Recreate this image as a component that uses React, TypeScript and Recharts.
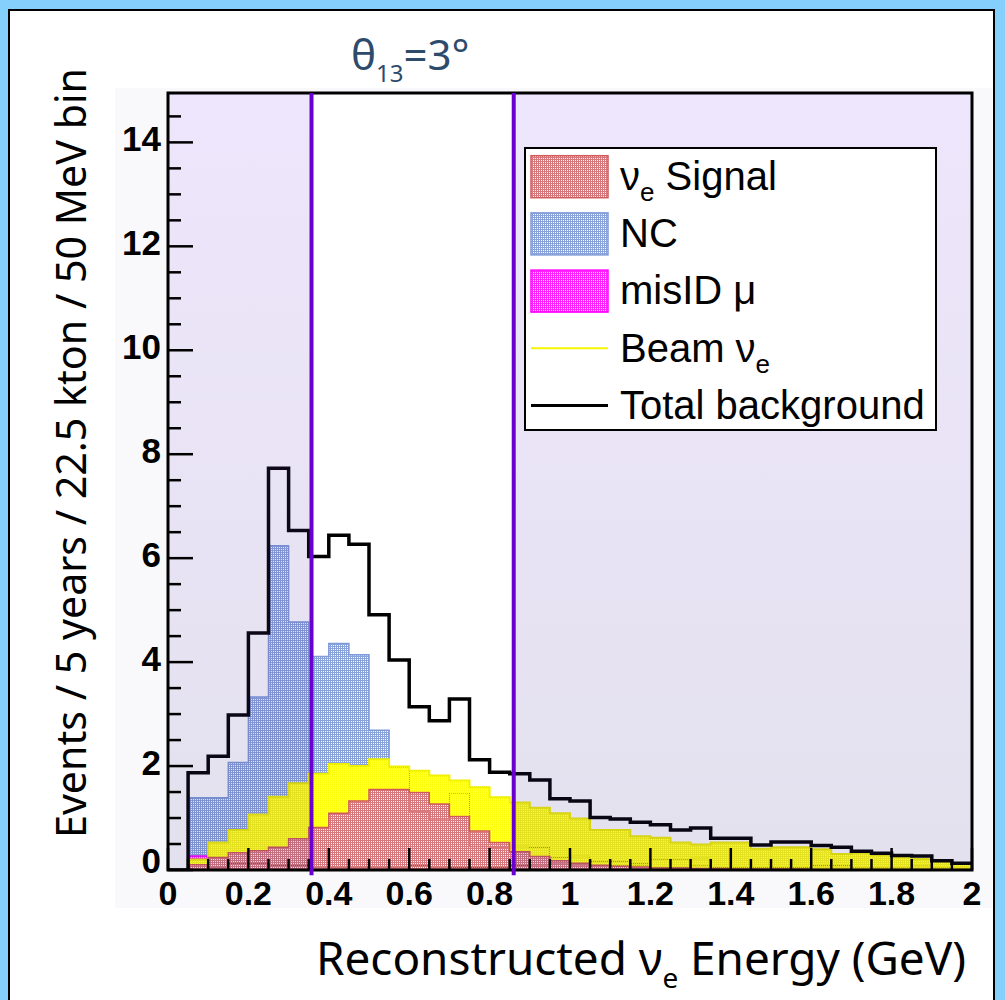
import React from 'react';
import { ComposedChart, Area, Line, XAxis, YAxis, ReferenceArea, ReferenceLine, Legend } from 'recharts';

// ---- data ----
const binEdges = [0, 0.05, 0.1, 0.15, 0.2, 0.25, 0.3, 0.35, 0.4, 0.45, 0.5, 0.55, 0.6, 0.65, 0.7, 0.75, 0.8, 0.85, 0.9, 0.95, 1.0, 1.05, 1.1, 1.15, 1.2, 1.25, 1.3, 1.35, 1.4, 1.45, 1.5, 1.55, 1.6, 1.65, 1.7, 1.75, 1.8, 1.85, 1.9, 1.95, 2.0];
const nueSignal = [0, 0.10, 0.24, 0.33, 0.37, 0.44, 0.60, 0.82, 1.09, 1.33, 1.55, 1.55, 1.49, 1.27, 1.03, 0.75, 0.53, 0.35, 0.26, 0.18, 0.13, 0.09, 0.07, 0.06, 0.04, 0.04, 0.03, 0.03, 0.02, 0.02, 0.02, 0.02, 0.01, 0.01, 0.01, 0.01, 0.01, 0.01, 0.01, 0.01];
const ncBkg = [0, 1.39, 1.39, 2.07, 3.33, 6.24, 4.77, 4.11, 4.36, 4.14, 2.69, 1.98, 1.12, 0.96, 1.48, 0.45, 0.43, 0.45, 0.44, 0.24, 0.26, 0.16, 0.16, 0.12, 0.21, 0.21, 0.22, 0.04, 0.04, 0.04, 0.04, 0.04, 0.08, 0.08, 0.03, 0.03, 0.03, 0.07, 0.03, 0.03];
const misIdMu = [0, 0.27, 0.06, 0.13, 0.13, 0.08, 0.08, 0.06, 0.06, 0.06, 0.06, 0.06, 0.08, 0.06, 0.05, 0.05, 0.05, 0.08, 0.10, 0.14, 0.10, 0.07, 0.07, 0.10, 0.04, 0.04, 0.10, 0.03, 0.03, 0.03, 0.03, 0.03, 0.03, 0.03, 0.03, 0.03, 0.03, 0.03, 0.03, 0.02];
const beamNue = [0, 0.20, 0.53, 0.77, 1.07, 1.41, 1.67, 1.85, 2.04, 2.00, 2.13, 1.99, 1.91, 1.82, 1.72, 1.59, 1.40, 1.30, 1.20, 1.09, 0.99, 0.77, 0.77, 0.65, 0.62, 0.53, 0.49, 0.53, 0.53, 0.41, 0.44, 0.44, 0.40, 0.31, 0.33, 0.29, 0.26, 0.21, 0.17, 0.12];
const totalBkg = [0, 1.87, 2.19, 2.98, 4.56, 7.73, 6.53, 6.03, 6.44, 6.27, 4.91, 4.04, 3.14, 2.87, 3.29, 2.12, 1.88, 1.85, 1.73, 1.37, 1.33, 1.01, 0.98, 0.92, 0.87, 0.77, 0.81, 0.61, 0.61, 0.48, 0.54, 0.54, 0.47, 0.44, 0.36, 0.32, 0.28, 0.27, 0.18, 0.13];

const yTicks = [0, 0.5, 1, 1.5, 2, 2.5, 3, 3.5, 4, 4.5, 5, 5.5, 6, 6.5, 7, 7.5, 8, 8.5, 9, 9.5, 10, 10.5, 11, 11.5, 12, 12.5, 13, 13.5, 14, 14.5];
const xTicks = binEdges;
const yMax = 14.95;
const windowEdges = [0.357, 0.86];

const legendItems = [
  { pre: 'ν', sub: 'e', post: ' Signal', kind: 'box', pattern: 'lgSig', stroke: '#d05a5a' },
  { pre: 'NC', sub: '', post: '', kind: 'box', pattern: 'lgNC', stroke: '#7f9bd6' },
  { pre: 'misID μ', sub: '', post: '', kind: 'box', pattern: 'lgMis', stroke: '#ff00ff' },
  { pre: 'Beam ν', sub: 'e', post: '', kind: 'line', pattern: '', stroke: '#f5f500' },
  { pre: 'Total background', sub: '', post: '', kind: 'line', pattern: '', stroke: '#000000' },
];

const data = binEdges.map((x, i) => {
  const j = Math.min(i, nueSignal.length - 1);
  return { x, signal: nueSignal[j], nc: ncBkg[j], misId: misIdMu[j], beam: beamNue[j], total: totalBkg[j] };
});

const SANS = '"Liberation Sans", Arial, sans-serif';
const TITLE_FONT = '"Noto Sans", "Open Sans", sans-serif';

const dotPattern = (id: string, color: string) => (
  <pattern id={id} key={id} x={0} y={0} width={2} height={2} patternUnits="userSpaceOnUse">
    <rect x={0} y={0} width={1} height={1} fill={color} shapeRendering="crispEdges" />
    <rect x={1} y={0} width={1} height={1} fill={color} shapeRendering="crispEdges" />
    <rect x={0} y={1} width={1} height={1} fill={color} shapeRendering="crispEdges" />
  </pattern>
);

const SIG_DOT = '#d9787c';
const NC_DOT = '#8aa3dd';
const BEAM_DOT = '#ffff10';
const MIS_DOT = '#ff20ff';

const YTick = (props: any) => {
  const { x, y, payload } = props;
  const v = payload.value;
  const major = Math.abs(v / 2 - Math.round(v / 2)) < 1e-6;
  const len = major ? 25 : 13;
  return (
    <g>
      <line x1={x} x2={x + len} y1={y} y2={y} stroke="#000" strokeWidth={2.5} />
      {major && (
        <text x={x - 7} y={v === 0 ? y + 3 : y + 9} textAnchor="end" fontFamily={SANS} fontWeight="bold" fontSize={35} fill="#000">
          {String(v)}
        </text>
      )}
    </g>
  );
};

const XTick = (props: any) => {
  const { x, y, payload } = props;
  const v = payload.value;
  const major = Math.abs(v / 0.2 - Math.round(v / 0.2)) < 1e-6;
  const len = major ? 22 : 11;
  const label = Math.abs(v - Math.round(v)) < 1e-6 ? String(Math.round(v)) : v.toFixed(1);
  return (
    <g>
      <line x1={x} x2={x} y1={y} y2={y - len} stroke="#000" strokeWidth={2.5} />
      {major && (
        <text x={x} y={y + 35} textAnchor="middle" fontFamily={SANS} fontWeight="bold" fontSize={34} fill="#000">
          {label}
        </text>
      )}
    </g>
  );
};

const LegendBox = () => (
  <svg width={413} height={284} style={{ display: 'block' }}>
    <defs>
      {dotPattern('lgSig', SIG_DOT)}
      {dotPattern('lgNC', NC_DOT)}
      {dotPattern('lgMis', MIS_DOT)}
    </defs>
    <rect x={1} y={1} width={411} height={282} fill="#fff" stroke="#000" strokeWidth={2} />
    {legendItems.map((it, i) => {
      const cy = 29.7 + 57.2 * i;
      return (
        <g key={i}>
          {it.kind === 'box' ? (
            <rect x={7} y={cy - 21} width={77} height={42} fill={`url(#${it.pattern})`} stroke={it.stroke} strokeWidth={1.5} />
          ) : (
            <line x1={7} x2={84} y1={cy} y2={cy} stroke={it.stroke} strokeWidth={it.stroke === '#000000' ? 3 : 2} />
          )}
          <text x={96} y={cy + 13.3} fontFamily={SANS} fontSize={40} fill="#000">
            {it.pre}
            {it.sub && (
              <tspan fontSize={26} dy={11}>{it.sub}</tspan>
            )}
            {it.post && (
              <tspan dy={it.sub ? -11 : 0}>{it.post}</tspan>
            )}
          </text>
        </g>
      );
    })}
  </svg>
);

export default function App() {
  return (
    <div style={{ position: 'fixed', left: 0, top: 0, width: 1005, height: 1000, background: '#84cffb', overflow: 'hidden' }}>
      <div style={{ position: 'absolute', left: 8, top: 9, width: 987, height: 1000, background: '#fff', border: '2px solid #000', boxSizing: 'border-box' }} />
      <div style={{ position: 'absolute', left: 115, top: 88, width: 877, height: 820, background: '#f9f9fb' }} />
      <div style={{ position: 'absolute', left: 0, top: 0 }}>
        <ComposedChart width={1005} height={1000} data={data} margin={{ top: 93, right: 33, bottom: 0, left: 0 }}>
          <defs>
            {dotPattern('pSig', SIG_DOT)}
            {dotPattern('pNC', NC_DOT)}
            {dotPattern('pBeam', BEAM_DOT)}
            {dotPattern('pMis', MIS_DOT)}
            <linearGradient id="lavGrad" x1="0" y1="0" x2="0" y2="1">
              <stop offset="0%" stopColor="rgb(134,76,234)" stopOpacity={0.14} />
              <stop offset="100%" stopColor="rgb(55,41,133)" stopOpacity={0.14} />
            </linearGradient>
          </defs>
          <rect x={168} y={93} width={804} height={777} fill="#ffffff" />
          <XAxis
            type="number"
            dataKey="x"
            domain={[0, 2]}
            allowDataOverflow
            ticks={xTicks}
            interval={0}
            tick={<XTick />}
            tickLine={false}
            axisLine={false}
            tickSize={0}
            tickMargin={0}
            height={130}
            zIndex={50}
          />
          <YAxis
            type="number"
            domain={[0, yMax]}
            allowDataOverflow
            ticks={yTicks}
            interval={0}
            tick={<YTick />}
            tickLine={false}
            axisLine={false}
            tickSize={0}
            tickMargin={0}
            width={168}
            zIndex={50}
          />
          <Area type="stepAfter" dataKey="nc" name="NC" stroke="#7f9bd6" strokeWidth={1.5} fill="url(#pNC)" fillOpacity={1} isAnimationActive={false} dot={false} activeDot={false} zIndex={101} />
          <Area type="stepAfter" dataKey="misId" name="misID μ" stroke="#ff00ff" strokeWidth={1.5} fill="url(#pMis)" fillOpacity={1} isAnimationActive={false} dot={false} activeDot={false} zIndex={102} />
          <Area type="stepAfter" dataKey="beam" name="Beam νe" stroke="#f0f000" strokeWidth={2} fill="url(#pBeam)" fillOpacity={1} isAnimationActive={false} dot={false} activeDot={false} zIndex={103} />
          <Area type="stepAfter" dataKey="signal" name="νe Signal" stroke="#d05a5a" strokeWidth={1.5} fill="url(#pSig)" fillOpacity={1} isAnimationActive={false} dot={false} activeDot={false} zIndex={104} />
          <Line type="stepAfter" dataKey="total" name="Total background" stroke="#000" strokeWidth={3.5} dot={false} activeDot={false} isAnimationActive={false} zIndex={105} />
          <ReferenceArea x1={0} x2={windowEdges[0]} y1={0} y2={yMax} fill="url(#lavGrad)" fillOpacity={1} stroke="none" zIndex={110} />
          <ReferenceArea x1={windowEdges[1]} x2={2} y1={0} y2={yMax} fill="url(#lavGrad)" fillOpacity={1} stroke="none" zIndex={110} />
          <ReferenceArea x1={0} x2={2} y1={0} y2={yMax} fill="none" fillOpacity={0} stroke="#000" strokeWidth={3} zIndex={115} />
          {windowEdges.map((w) => (
            <ReferenceLine key={w} segment={[{ x: w, y: -0.1 }, { x: w, y: yMax }]} ifOverflow="visible" stroke="#6a00d0" strokeWidth={4} zIndex={120} />
          ))}
          <Legend
            layout="horizontal"
            verticalAlign="middle"
            align="center"
            content={() => <LegendBox />}
            wrapperStyle={{ position: 'absolute', left: 524, top: 147, width: 413, height: 284 }}
          />
          <g>
            <text transform="translate(86,453) rotate(-90)" textAnchor="middle" fontFamily={TITLE_FONT} fontSize={42} fill="#000" textLength={770} lengthAdjust="spacingAndGlyphs">
              Events / 5 years / 22.5 kton / 50 MeV bin
            </text>
            <text x={316} y={975} fontFamily={TITLE_FONT} fontSize={46} fill="#000" textLength={650} lengthAdjust="spacingAndGlyphs">
              Reconstructed ν<tspan fontSize={28} dy={13}>e</tspan>
              <tspan dy={-13}> Energy (GeV)</tspan>
            </text>
            <text x={351} y={70} fontFamily={TITLE_FONT} fontSize={42} fill="#2d4b6b">
              <tspan textLength={25} lengthAdjust="spacingAndGlyphs">θ</tspan>
              <tspan fontSize={24} dy={12}>13</tspan>
              <tspan dy={-12}>=3°</tspan>
            </text>
          </g>
        </ComposedChart>
      </div>
    </div>
  );
}
